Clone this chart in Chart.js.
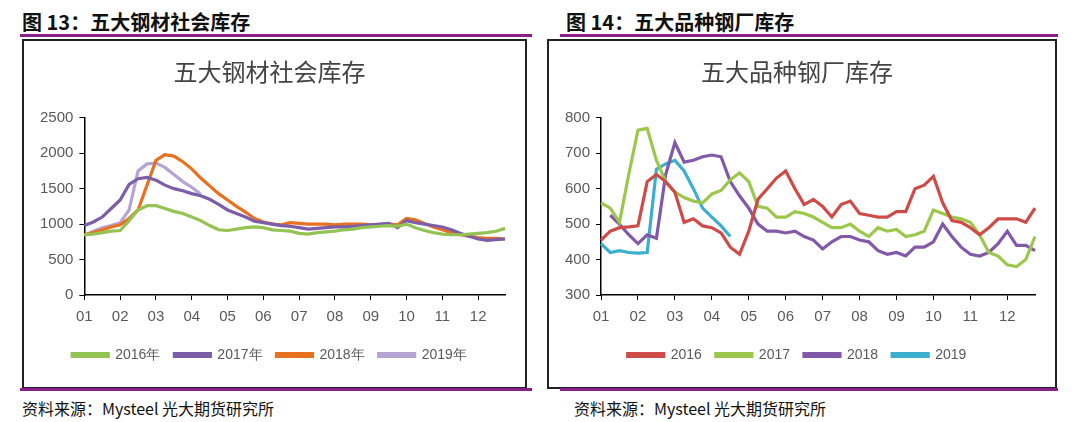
<!DOCTYPE html>
<html><head><meta charset="utf-8">
<script src="https://cdn.jsdelivr.net/npm/chart.js@4"></script>
<style>
body{margin:0;width:1080px;height:422px;background:#fff;position:relative;overflow:hidden;font-family:"Noto Sans CJK SC",sans-serif}
.h{position:absolute;top:7px;font-size:20px;font-weight:bold;color:#111}
.pl{position:absolute;height:3px;background:#8a1e8a}
.box{position:absolute;border:2px solid #222;box-sizing:border-box}
.src{position:absolute;top:396px;font-size:16px;color:#111}
.cw{position:absolute}
</style></head><body>
<div class="h" style="left:22px">图 13：五大钢材社会库存</div>
<div class="h" style="left:566px">图 14：五大品种钢厂库存</div>
<div class="pl" style="left:20px;width:512px;top:34px"></div>
<div class="pl" style="left:560px;width:498px;top:34px"></div>
<div class="box" style="left:22px;top:39px;width:505px;height:350px"></div>
<div class="box" style="left:547px;top:39px;width:510px;height:350px"></div>
<div class="pl" style="left:20px;width:512px;top:388px"></div>
<div class="pl" style="left:560px;width:498px;top:388px"></div>
<div class="src" style="left:22px">资料来源：Mysteel  光大期货研究所</div>
<div class="src" style="left:574px">资料来源：Mysteel  光大期货研究所</div>
<div class="cw" style="left:26px;top:43px;width:497px;height:342px"><canvas id="c1"></canvas></div>
<div class="cw" style="left:551px;top:43px;width:502px;height:342px"><canvas id="c2"></canvas></div>
<script>
const months=["01","02","03","04","05","06","07","08","09","10","11","12"];
const labels=[];months.forEach(m=>{for(let i=0;i<4;i++)labels.push(i==0?m:"");});
const s16=[850,860,880,900,910,1050,1200,1260,1260,1220,1180,1150,1100,1050,980,920,910,930,950,960,950,920,910,900,870,860,880,890,900,920,930,950,960,970,980,970,1000,950,910,880,860,850,850,860,870,880,900,940];
const s17=[980,1030,1100,1220,1340,1560,1640,1660,1620,1550,1500,1470,1430,1400,1350,1280,1200,1150,1100,1040,1020,1000,980,970,950,930,940,950,960,960,970,980,990,1000,1010,950,1050,1020,1000,980,960,920,870,830,790,770,780,790];
const s18=[850,880,920,960,990,1080,1200,1550,1900,1980,1960,1880,1780,1650,1540,1430,1340,1250,1170,1080,1030,1000,990,1020,1010,1000,1000,1000,990,1000,1000,1000,990,990,1000,990,1080,1060,1010,960,920,880,850,830,810,800,800,790];
const s19=[840,900,950,980,1020,1200,1750,1850,1860,1800,1700,1600,1520,1420];
const f16=[455,480,490,492,495,620,640,620,590,505,515,495,490,475,435,415,480,570,600,630,650,600,555,570,550,520,555,565,530,525,520,520,535,535,600,610,635,560,510,505,490,470,490,515,515,515,505,545];
const f17=[560,545,505,640,765,770,680,620,590,575,565,560,585,595,625,645,620,550,545,520,520,535,530,520,505,490,490,500,480,465,490,480,485,465,470,480,540,530,520,515,505,470,420,410,385,380,400,465];
const f18=[null,525,500,470,445,470,460,640,730,675,680,690,695,690,620,580,545,500,480,480,475,480,465,455,430,450,465,465,455,450,425,415,420,410,435,435,450,500,465,435,415,410,420,445,480,440,440,425];
const f19=[445,420,425,420,418,420,655,670,680,650,600,545,520,495,465];
const tc='#595959';
function mk(id,title,ds,ymin,ymax,step){
 new Chart(document.getElementById(id),{type:'line',data:{labels,datasets:ds.map(d=>({label:d[0],data:d[1],borderColor:d[2],backgroundColor:d[2],borderWidth:3.2,pointRadius:0,tension:0,spanGaps:false}))},
 options:{responsive:true,maintainAspectRatio:false,animation:false,
 layout:{padding:{left:8,right:18,top:4,bottom:13}},
 plugins:{title:{display:true,text:title,color:'#444',font:{size:24,weight:'normal',family:'"Noto Sans CJK SC"'},padding:{top:10,bottom:32}},
 legend:{position:'bottom',labels:{boxWidth:36,boxHeight:3,color:tc,font:{size:14},padding:14}}},
 scales:{x:{offset:false,grid:{drawOnChartArea:false,tickLength:5,color:c=>c.index%4==0?'#000':'rgba(0,0,0,0)'},border:{color:'#000',width:1.5},
   ticks:{autoSkip:false,maxRotation:0,color:tc,font:{size:15},padding:8,callback:(v,i)=>labels[i]}},
  y:{min:ymin,max:ymax,ticks:{stepSize:step,color:tc,font:{size:15},padding:6,callback:v=>String(v)},grid:{drawOnChartArea:false,tickLength:5,color:'#000'},border:{color:'#000',width:1.5}}}}});
}
mk('c1','五大钢材社会库存',[['2016年',s16,'#93c453'],['2017年',s17,'#7b5ea7'],['2018年',s18,'#e8701e'],['2019年',s19,'#b6a4d4']],0,2500,500);
mk('c2','五大品种钢厂库存',[['2016',f16,'#cf4b47'],['2017',f17,'#9bc74b'],['2018',f18,'#8259a8'],['2019',f19,'#3aafcf']],300,800,100);
</script></body></html>
